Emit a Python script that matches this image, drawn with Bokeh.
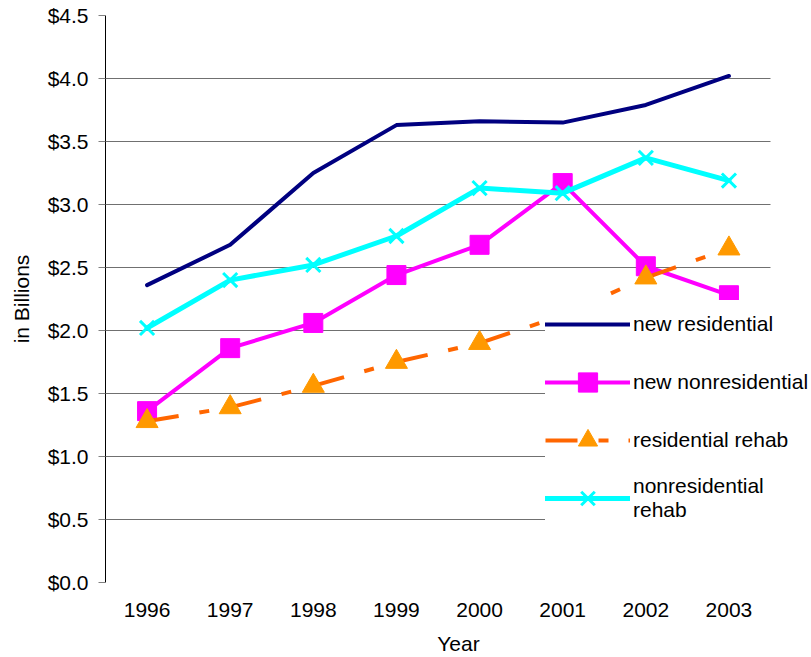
from bokeh.plotting import figure
from bokeh.models import (Range1d, FixedTicker, NumeralTickFormatter, PrintfTickFormatter,
                          Legend, LegendItem, ColumnDataSource)
from bokeh.embed import file_html
from bokeh.resources import INLINE

years = [1996, 1997, 1998, 1999, 2000, 2001, 2002, 2003]
new_residential = [2.36, 2.68, 3.25, 3.63, 3.66, 3.65, 3.79, 4.02]
new_nonresidential = [1.36, 1.86, 2.06, 2.44, 2.68, 3.17, 2.51, 2.28]
residential_rehab = [1.28, 1.39, 1.56, 1.75, 1.90, 2.12, 2.42, 2.65]
nonresidential_rehab = [2.02, 2.40, 2.52, 2.75, 3.13, 3.09, 3.37, 3.19]
y_ticks = [0.0, 0.5, 1.0, 1.5, 2.0, 2.5, 3.0, 3.5, 4.0, 4.5]

FONT = "Liberation Sans"
FS = "21px"

W, H = 811, 657
LEFT, TOP, BOTTOM = 105, 15, 75
# plot area (years) covers 665 px; the frame extends beyond it to hold the legend
x_start = years[0] - 0.5
x_data_end = years[-1] + 0.5
px_per_year = 665 / (x_data_end - x_start)
x_end = x_start + (W - LEFT) / px_per_year

p = figure(width=W, height=H, x_range=Range1d(x_start, x_end),
           y_range=Range1d(0, 4.5), output_backend="svg", toolbar_location=None,
           min_border_left=LEFT, min_border_top=TOP, min_border_bottom=BOTTOM,
           min_border_right=0)
p.outline_line_color = None
p.background_fill_color = "white"
p.border_fill_color = "white"

# axes
p.yaxis.ticker = FixedTicker(ticks=y_ticks)
p.yaxis.formatter = NumeralTickFormatter(format="$0.0")
p.yaxis.axis_line_color = "black"
p.yaxis.major_tick_line_color = "#808080"
p.yaxis.major_tick_out = 7
p.yaxis.major_tick_in = 0
p.yaxis.minor_tick_line_color = None
p.yaxis.major_label_standoff = 10
p.yaxis.axis_label = "in Billions"
p.yaxis.axis_label_standoff = 12
p.xaxis.ticker = FixedTicker(ticks=years)
p.xaxis.formatter = PrintfTickFormatter(format="%d")
p.xaxis.axis_line_color = None
p.xaxis.major_tick_line_color = None
p.xaxis.minor_tick_line_color = None
p.xaxis.major_label_standoff = 14
p.xaxis.axis_label = "Year"
p.xaxis.axis_label_standoff = 12
for ax in (p.xaxis, p.yaxis):
    ax.major_label_text_font = FONT
    ax.major_label_text_font_size = FS
    ax.major_label_text_color = "black"
    ax.axis_label_text_font = FONT
    ax.axis_label_text_font_size = FS
    ax.axis_label_text_font_style = "normal"
    ax.axis_label_text_color = "black"

p.xgrid.grid_line_color = None
p.ygrid.grid_line_color = "#707070"
p.ygrid.grid_line_width = 1
p.ygrid.cross_bounds = (x_start, x_data_end)

src = ColumnDataSource(dict(x=years, nr=new_residential, nn=new_nonresidential,
                            rr=residential_rehab, nrr=nonresidential_rehab))

r1 = p.line("x", "nr", source=src, line_color="#000080", line_width=4,
            line_cap="round", line_join="round")

r2l = p.line("x", "nn", source=src, line_color="#FF00FF", line_width=4,
             line_cap="round", line_join="round")
r2m = p.scatter("x", "nn", source=src, marker="square", size=19,
                fill_color="#FF00FF", line_color="#FF00FF")

seg_x = [[years[i], years[i + 1]] for i in range(len(years) - 1)]
seg_y = [[residential_rehab[i], residential_rehab[i + 1]] for i in range(len(years) - 1)]
r3l = p.multi_line(xs=seg_x, ys=seg_y, line_color="#FF6600", line_width=4,
                   line_dash="32 21 10 20")
r3m = p.scatter("x", "rr", source=src, marker="triangle", size=22,
                fill_color="#FF9900", line_color="#FF9900")

r4l = p.line("x", "nrr", source=src, line_color="#00FFFF", line_width=5,
             line_cap="round", line_join="round")
r4m = p.scatter("x", "nrr", source=src, marker="x", size=20,
                line_color="#00FFFF", line_width=3)

legend = Legend(items=[
    LegendItem(label="new residential", renderers=[r1]),
    LegendItem(label="new nonresidential", renderers=[r2l, r2m]),
    LegendItem(label="residential rehab", renderers=[r3l, r3m]),
    LegendItem(label="nonresidential\nrehab", renderers=[r4l, r4m]),
], location=(440, 60))
legend.padding = 0
legend.margin = 0
legend.border_line_color = None
legend.background_fill_color = "white"
legend.background_fill_alpha = 1
legend.glyph_width = 85
legend.glyph_height = 48
legend.label_standoff = 3
legend.label_height = 20
legend.spacing = 10
legend.label_text_font = FONT
legend.label_text_font_size = FS
legend.label_text_color = "black"
p.add_layout(legend, "center")

open("out.html", "w").write(file_html(p, INLINE))
